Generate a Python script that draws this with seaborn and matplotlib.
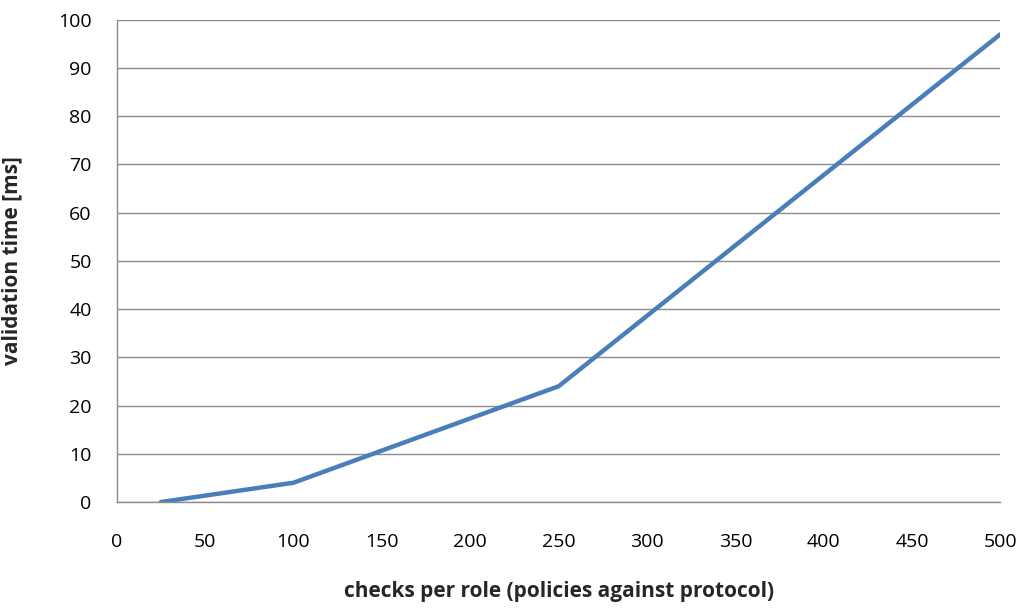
import matplotlib
matplotlib.use("Agg")
import matplotlib.pyplot as plt
import seaborn as sns
import pandas as pd

checks = [25, 100, 250, 500]
validation_ms = [0, 4, 24, 97]
x_ticks = [0, 50, 100, 150, 200, 250, 300, 350, 400, 450, 500]
y_ticks = [0, 10, 20, 30, 40, 50, 60, 70, 80, 90, 100]

sns.set_theme(style="white")
plt.rcParams['font.family'] = ['Open Sans', 'DejaVu Sans']

df = pd.DataFrame({"checks": checks, "ms": validation_ms})

fig = plt.figure(figsize=(10.24, 6.16), dpi=100)
ax = fig.add_axes([0.114, 0.185, 0.863, 0.783])
sns.lineplot(data=df, x="checks", y="ms", ax=ax, color="#4A7EBB", linewidth=3.2,
             solid_capstyle="round", solid_joinstyle="miter")
ax.set_xlim(0, 500)
ax.set_ylim(0, 100)
ax.set_xticks(x_ticks)
ax.set_yticks(y_ticks)
ax.yaxis.grid(True, color="#8c8c8c", linewidth=1.0)
ax.xaxis.grid(False)
ax.set_axisbelow(True)
for s in ["top", "right"]:
    ax.spines[s].set_visible(False)
for s in ["left", "bottom"]:
    ax.spines[s].set_color("#8c8c8c")
    ax.spines[s].set_linewidth(1.0)
ax.tick_params(axis="both", which="major", direction="out", length=6, width=1,
               color="#8c8c8c", labelsize=14, labelcolor="black")
ax.tick_params(axis="y", pad=12)
ax.tick_params(axis="x", pad=16)
ax.set_xlabel("checks per role (policies against protocol)", fontsize=15,
              fontweight="bold", labelpad=22)
ax.set_ylabel("validation time [ms]", fontsize=15, fontweight="bold", labelpad=26)
fig.savefig("out.png", dpi=100)
